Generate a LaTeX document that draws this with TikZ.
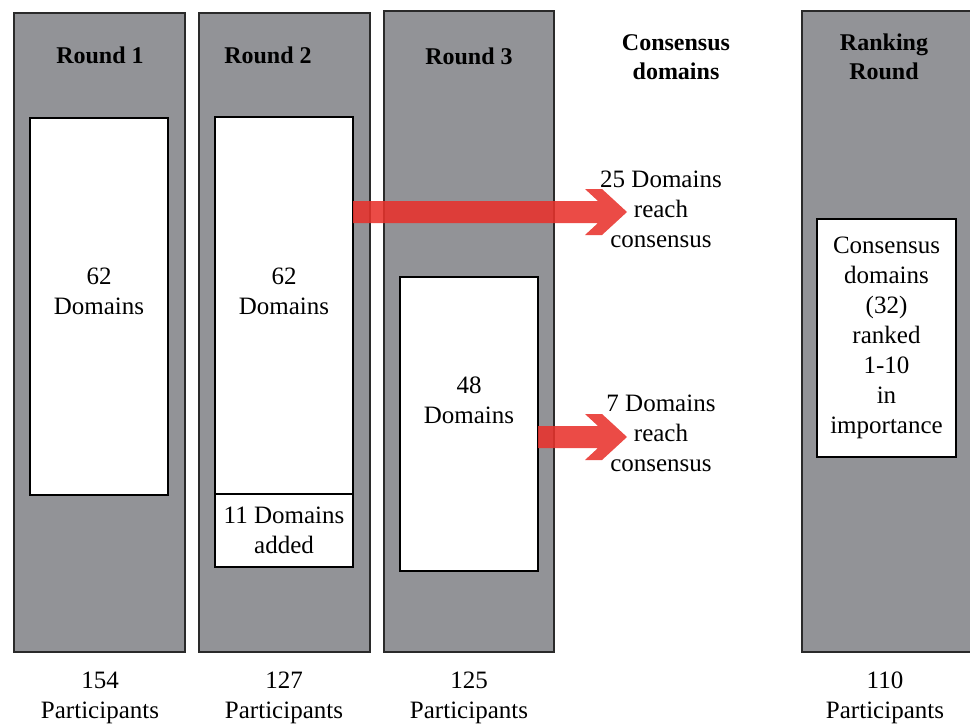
\documentclass[tikz,border=0pt]{standalone}
\usepackage{fontspec}
\setmainfont{Liberation Serif}
\usetikzlibrary{calc}
\definecolor{colgray}{HTML}{929397}
\definecolor{linec}{HTML}{2A2A2A}
\definecolor{arrowred}{HTML}{E8322C}
\tikzset{
  col/.style={draw=linec, fill=colgray, line width=1.6pt, anchor=north west, inner sep=0pt, outer sep=0pt},
  inbox/.style={draw=black, fill=white, line width=1.6pt, anchor=north west, inner sep=0pt, outer sep=0pt},
  txt/.style={font=\fontsize{25}{30}\selectfont, align=center, inner sep=0pt, text=black},
  ttl/.style={font=\fontsize{24}{29}\selectfont\bfseries, align=center, inner sep=0pt, text=black},
  bigarrow/.style={fill=arrowred, draw=none, fill opacity=0.88}
}
% chevron-headed block arrow from start coordinate #1 to tip coordinate #2
\newcommand\chevarrow[2]{%
  \fill[bigarrow] ($(#1)+(0,-11)$) -- ($(#2)+(-29,-11)$) -- ($(#2)+(-42,-23)$)
    -- ($(#2)+(-25,-23)$) -- (#2) -- ($(#2)+(-25,23)$) -- ($(#2)+(-42,23)$)
    -- ($(#2)+(-29,11)$) -- ($(#1)+(0,11)$) -- cycle;}
\begin{document}
\begin{tikzpicture}[x=1pt,y=-1pt]
\useasboundingbox (0,0) rectangle (970,725);
% columns
\node[col, minimum width=171pt, minimum height=639pt] (c1) at (14,13) {};
\node[col, minimum width=171pt, minimum height=639pt] (c2) at (199,13) {};
\node[col, minimum width=170pt, minimum height=641pt] (c3) at (384,11) {};
\node[col, minimum width=190pt, minimum height=641pt] (c4) at (802,11) {};
% inner boxes
\node[inbox, minimum width=138pt, minimum height=377pt] (b1) at (30,118) {};
\node[inbox, minimum width=138pt, minimum height=377pt] (b2) at (215,117) {};
\node[inbox, minimum width=138pt, minimum height=73pt, txt, anchor=north west] (b2a) at (215,494) {11 Domains\\added};
\node[inbox, minimum width=138pt, minimum height=294pt] (b3) at (400,277) {};
\node[inbox, minimum width=139pt, minimum height=238pt, txt, anchor=north west] (b4) at (817,219) {Consensus\\domains\\(32)\\ranked\\1-10\\in\\importance};
% titles
\node[ttl] (t1) at (100,55) {Round 1};
\node[ttl] (t2) at (268,55) {Round 2};
\node[ttl] (t3) at (469,56) {Round 3};
\node[ttl] (t5) at (676,57) {Consensus\\domains};
\node[ttl] (t4) at (884,57) {Ranking\\Round};
% inner texts
\node[txt] (d1) at (99,291) {62\\Domains};
\node[txt] (d2) at (284,291) {62\\Domains};
\node[txt] (d3) at (469,400) {48\\Domains};
% consensus texts
\node[txt] (k1) at (661,209) {25 Domains\\reach\\consensus};
\node[txt] (k2) at (661,433) {7 Domains\\reach\\consensus};
% participants
\node[txt] (p1) at (100,698) {154\\Participants};
\node[txt] (p2) at (284,698) {127\\Participants};
\node[txt] (p3) at (469,698) {125\\Participants};
\node[txt] (p4) at (885,698) {110\\Participants};
% arrows
\coordinate (a1) at (627,212);
\coordinate (a2) at (627,437);
\coordinate (s1) at (b2.east |- a1);
\coordinate (s2) at (b3.east |- a2);
\chevarrow{s1}{a1}
\chevarrow{s2}{a2}
\end{tikzpicture}
\end{document}
